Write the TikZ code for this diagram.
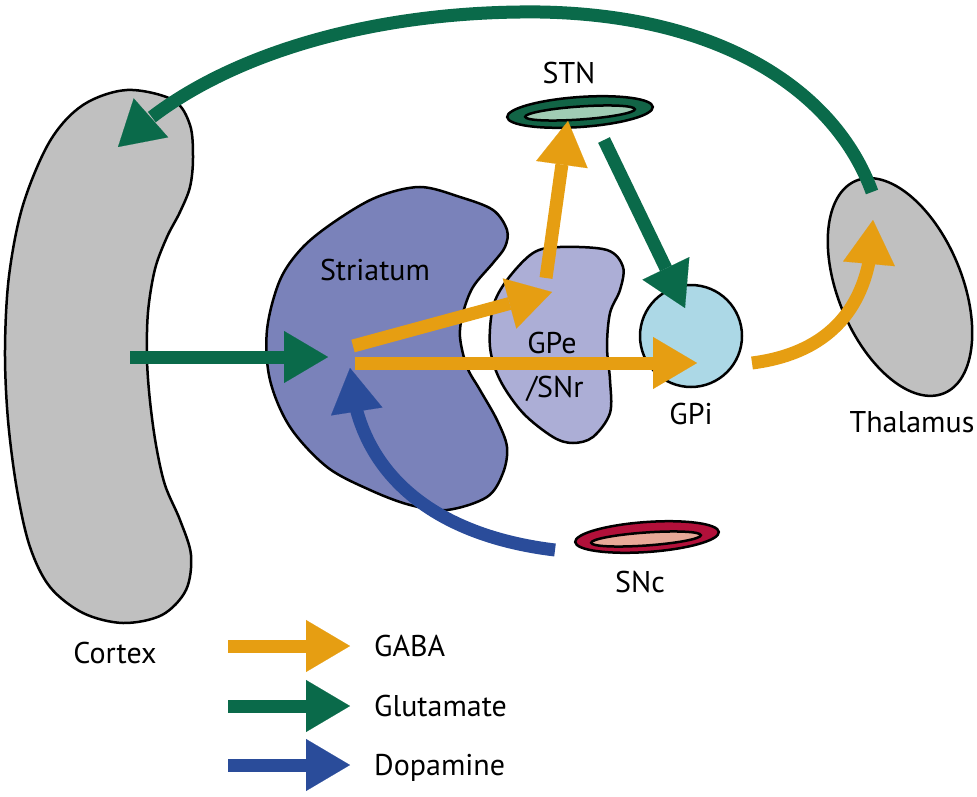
\documentclass[tikz,border=0pt]{standalone}
\usepackage{fontspec}
\setsansfont{PT Sans}
\usepackage{tikz}
\usetikzlibrary{positioning}
\usetikzlibrary{shapes.geometric}
\usetikzlibrary{arrows.meta}
\usetikzlibrary{bending}

\definecolor{gabacol}{RGB}{230,158,18}
\definecolor{glucol}{RGB}{10,106,74}
\definecolor{dopacol}{RGB}{42,76,154}
\definecolor{striacol}{RGB}{122,130,186}
\definecolor{gpecol}{RGB}{172,174,214}
\definecolor{gpicol}{RGB}{172,216,230}
\definecolor{greycol}{RGB}{192,192,192}
\definecolor{stncol}{RGB}{18,100,70}
\definecolor{stncore}{RGB}{160,204,180}
\definecolor{snccol}{RGB}{178,16,58}
\definecolor{snccore}{RGB}{232,168,152}

\begin{document}
\begin{tikzpicture}[
    x=1pt, y=-1pt,
    every node/.style={font=\sffamily\fontsize{30}{34}\selectfont},
    area/.style={draw=black, line width=2.5pt},
    txt/.style={inner sep=0pt, text height=21pt, text depth=0pt},
    headtip/.style={-{Triangle[length=44pt, width=52pt, line width=0.1pt]}},
    gaba/.style={draw=gabacol, line width=13pt, headtip},
    glu/.style={draw=glucol, line width=13pt, headtip},
    dopa/.style={draw=dopacol, line width=13pt, headtip},
    ring/.style={ellipse, area, inner sep=0pt, rotate=4}
    ]
    \useasboundingbox (0,0) rectangle (977,797);

    %Areas
    \draw[area, fill=greycol] plot[smooth cycle, tension=0.55] coordinates {(127,90) (173,100) (190,125) (193,158) (190,187) (180,212) (167,237) (155,269) (148,312) (147,359) (150,401) (156,445) (165,485) (180,520) (191,555) (186,590) (162,615) (123,623) (83,613) (50,587) (30,547) (17,490) (8,420) (5,350) (9,276) (23,205) (50,141) (83,105)};
    \draw[area, fill=striacol] plot[smooth cycle, tension=0.55] coordinates {(420,187) (460,197) (493,210) (507,230) (505,247) (493,263) (473,287) (463,313) (460,337) (467,367) (480,390) (497,420) (507,447) (503,473) (487,497) (447,510) (410,505) (370,490) (327,467) (290,427) (270,380) (267,330) (280,280) (303,247) (337,220) (377,197)};
    \draw[area, fill=gpecol] plot[smooth cycle, tension=0.55] coordinates {(560,247) (607,250) (623,267) (620,290) (610,313) (607,347) (610,380) (610,413) (593,437) (573,443) (553,437) (523,413) (500,380) (490,347) (493,307) (507,280) (533,253)};

    %Nodes
    \node[circle, area, fill=gpicol, minimum size=102pt, inner sep=0pt, label={[txt, label distance=15pt]below:GPi}] (gpi) at (691,336) {};
    \node[ellipse, area, fill=greycol, minimum width=124pt, minimum height=230pt, inner sep=0pt, rotate=22.5] (thal) at (900,287) {};
    \node[ring, fill=stncol, minimum width=146pt, minimum height=30pt] (stn) at (580,112) {};
    \node[ring, fill=stncore, minimum width=110pt, minimum height=13pt] (stnmid) at (580,113) {};
    \node[ring, fill=snccol, minimum width=144pt, minimum height=30pt] (snc) at (647,537) {};
    \node[ring, fill=snccore, minimum width=110pt, minimum height=13pt] (sncmid) at (646,539) {};

    \node[txt] (ctxlbl) at (115,653) {Cortex};
    \node[txt] (strilbl) at (375,270) {Striatum};
    \node[txt] (gpelbl) at (552,343) {GPe};
    \node[txt] (snrlbl) at (555,387) {/SNr};
    \node[txt] (thallbl) at (912,422) {Thalamus};
    \node[txt] (stnlbl) at (569,73) {STN};
    \node[txt] (snclbl) at (640,582) {SNc};

    %Ends
    \coordinate (thalout) at (872,192);
    \coordinate (ctxin) at (118,147);
    \coordinate (ctxout) at (130,357);
    \coordinate (striin) at (328,357);
    \coordinate (striup) at (353,346);
    \coordinate (gpein) at (552,292);
    \coordinate (strimid) at (355,363);
    \coordinate (gpiin) at (697,363);
    \coordinate (gpeout) at (546,278);
    \coordinate (stnentry) at (568,121);
    \coordinate (stnout) at (604,140);
    \coordinate (gpitop) at (685,308);
    \coordinate (gpiout) at (752,363);
    \coordinate (thalin) at (873,220);
    \coordinate (sncout) at (555,550);
    \coordinate (stridown) at (350,368);

    %Lines
    \draw[glu] (thalout) .. controls (835,90) and (720,15) .. (540,12) .. controls (360,10) and (200,62) .. (ctxin);
    \draw[glu] (ctxout) -- (striin);
    \draw[gaba] (striup) -- (gpein);
    \draw[gaba] (strimid) -- (gpiin);
    \draw[gaba] (gpeout) -- (stnentry);
    \draw[glu] (stnout) -- (gpitop);
    \draw[gaba] (gpiout) .. controls (815,355) and (873,320) .. (thalin);
    \draw[dopa] (sncout) .. controls (430,535) and (355,470) .. (stridown);

    %Legend
    \coordinate (gabastart) at (228,646);
    \coordinate (gabaend) at (350,646);
    \coordinate (glustart) at (228,706);
    \coordinate (gluend) at (350,706);
    \coordinate (dopastart) at (228,765);
    \coordinate (dopaend) at (350,765);
    \node[txt, right=24pt of gabaend] (gabatxt) {GABA};
    \node[txt, right=24pt of gluend] (glutxt) {Glutamate};
    \node[txt, right=24pt of dopaend] (dopatxt) {Dopamine};
    \draw[gaba] (gabastart) -- (gabaend);
    \draw[glu] (glustart) -- (gluend);
    \draw[dopa] (dopastart) -- (dopaend);

\end{tikzpicture}
\end{document}
